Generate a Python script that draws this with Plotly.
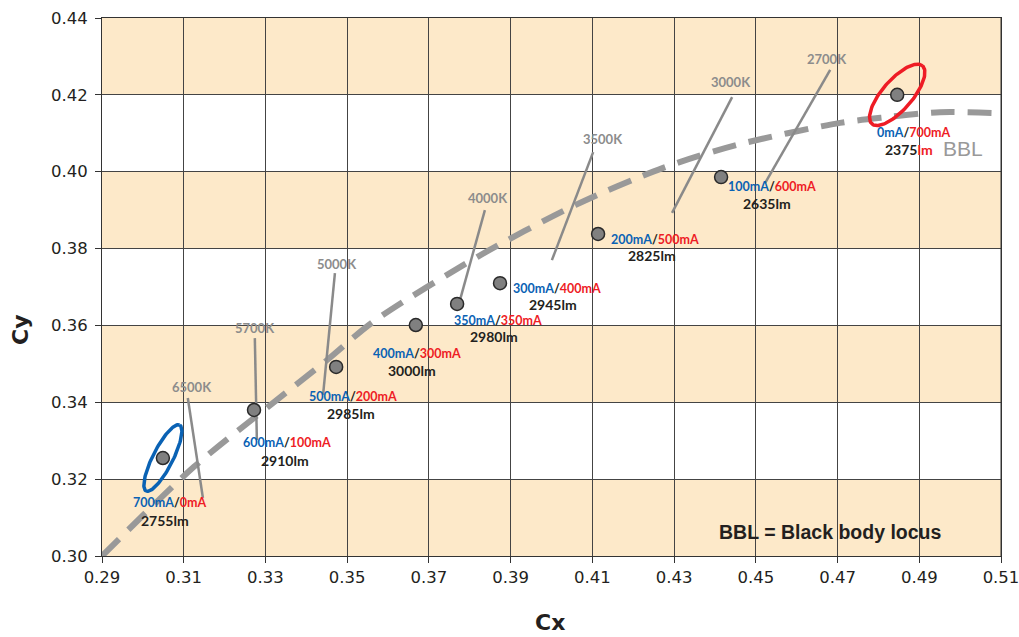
import numpy as np
import plotly.graph_objects as go

# Measured chromaticity of the dual-channel lamp at each current split
cx = [0.3049, 0.3272, 0.3473, 0.3668, 0.3769, 0.3874, 0.4114, 0.4415, 0.4846]
cy = [0.3255, 0.3380, 0.3492, 0.3601, 0.3656, 0.3710, 0.3838, 0.3986, 0.4200]
cool_ma = [700, 600, 500, 400, 350, 300, 200, 100, 0]
warm_ma = [0, 100, 200, 300, 350, 400, 500, 600, 700]
lumens = [2755, 2910, 2985, 3000, 2980, 2945, 2825, 2635, 2375]

# Black body locus
bbl_x = [0.2900, 0.3125, 0.3318, 0.3451, 0.3563, 0.3818, 0.4058, 0.4273,
         0.4454, 0.4706, 0.4821, 0.4951, 0.5100]
bbl_y = [0.3000, 0.3232, 0.3398, 0.3510, 0.3609, 0.3778, 0.3913, 0.4010,
         0.4070, 0.4127, 0.4142, 0.4155, 0.4152]

# Isotherm segments (top end, bottom end)
cct_names = ["6500K", "5700K", "5000K", "4000K", "3500K", "3000K", "2700K"]
iso_top_x = [0.3110, 0.3274, 0.3470, 0.3837, 0.4102, 0.4442, 0.4682]
iso_top_y = [0.3411, 0.3567, 0.3736, 0.3900, 0.4051, 0.4194, 0.4265]
iso_bot_x = [0.3147, 0.3279, 0.3441, 0.3776, 0.4001, 0.4295, 0.4523]
iso_bot_y = [0.3151, 0.3302, 0.3419, 0.3666, 0.3770, 0.3893, 0.3971]

# Axis ticks and shaded bands
x_ticks = [0.29, 0.31, 0.33, 0.35, 0.37, 0.39, 0.41, 0.43, 0.45, 0.47, 0.49, 0.51]
y_ticks = [0.30, 0.32, 0.34, 0.36, 0.38, 0.40, 0.42, 0.44]
band_starts = [0.30, 0.34, 0.38, 0.42]
band_height = 0.02

# ---------------------------------------------------------------- layout
W, H = 1019, 637
ML, MR, MT, MB = 102, 18, 18, 81
PW, PH = W - ML - MR, H - MT - MB
XR = (0.29, 0.51)
YR = (0.30, 0.44)
EPS = 1e-7  # keeps the end ticks inside the range despite float rounding
px_per_x = PW / (XR[1] - XR[0])
px_per_y = PH / (YR[1] - YR[0])

BLUE = "#0a62b4"
RED = "#ee1c25"
DARK = "#231f20"
GREY_TXT = "#8c8c8c"
GRID = "#444444"

fig = go.Figure()

for y0 in band_starts:
    fig.add_shape(type="rect", xref="paper", yref="y", x0=0, x1=1,
                  y0=y0, y1=y0 + band_height, fillcolor="#fde9c9",
                  line_width=0, layer="below")

# right-hand frame edge
fig.add_shape(type="line", xref="paper", yref="paper", x0=1, x1=1, y0=0, y1=1,
              line=dict(color="#333333", width=1), layer="above")

# BBL curve
fig.add_trace(go.Scatter(x=bbl_x, y=bbl_y, mode="lines",
                         line=dict(color="#999999", width=6, dash="24px,13px",
                                   shape="spline", smoothing=0.8),
                         hoverinfo="skip", showlegend=False))

# Isotherms
for i in range(len(cct_names)):
    fig.add_trace(go.Scatter(x=[iso_top_x[i], iso_bot_x[i]],
                             y=[iso_top_y[i], iso_bot_y[i]], mode="lines",
                             line=dict(color="#8a8a8a", width=2.5),
                             hoverinfo="skip", showlegend=False))

iso_label_shift = [(4, 11), (0, 10), (2, 9), (3, 12), (10, 13), (-1, 15), (-3, 11)]
for i, name in enumerate(cct_names):
    dx, dy = iso_label_shift[i]
    fig.add_annotation(x=iso_top_x[i], y=iso_top_y[i], text=f"<b>{name}</b>",
                       showarrow=False, xshift=dx, yshift=dy,
                       font=dict(family="Lato", size=13, color=GREY_TXT))


def ellipse(xc, yc, a_px, b_px, ang_deg, n=120):
    t = np.linspace(0, 2 * np.pi, n)
    th = np.radians(ang_deg)
    ux, uy = np.cos(th), np.sin(th)
    px = a_px * np.cos(t) * ux - b_px * np.sin(t) * uy
    py = a_px * np.cos(t) * uy + b_px * np.sin(t) * ux
    return xc + px / px_per_x, yc + py / px_per_y


ex, ey = ellipse(cx[0], cy[0], 37, 10, 63)
fig.add_trace(go.Scatter(x=ex, y=ey, mode="lines", line=dict(color=BLUE, width=3.5),
                         hoverinfo="skip", showlegend=False))
ex, ey = ellipse(cx[-1], cy[-1], 38.5, 15, 49)
fig.add_trace(go.Scatter(x=ex, y=ey, mode="lines", line=dict(color=RED, width=3.5),
                         hoverinfo="skip", showlegend=False))

# Measured points
fig.add_trace(go.Scatter(x=cx, y=cy, mode="markers",
                         marker=dict(size=13, color="#808080",
                                     line=dict(color="#2a2a2a", width=1.5)),
                         hoverinfo="skip", showlegend=False))

# Current-split label and luminous-flux label under each point (pixel offsets)
ma_shift = [(7, -44), (33, -33), (17, -30), (1, -28), (41, -17), (57, -5),
            (57, -6), (51, -9), (16, -38)]
lm_shift = [(2, -62), (31, -51), (15, -47), (-4, -45), (37, -33), (53, -21),
            (54, -22), (46, -26), (12, -55)]
for i in range(len(cx)):
    unit_col = RED if warm_ma[i] == 700 else DARK
    ma_text = (f"<b><span style='color:{BLUE}'>{cool_ma[i]}mA</span>"
               f"<span style='color:{DARK}'>/</span>"
               f"<span style='color:{RED}'>{warm_ma[i]}mA</span></b>")
    fig.add_annotation(x=cx[i], y=cy[i], text=ma_text, showarrow=False,
                       xshift=ma_shift[i][0], yshift=ma_shift[i][1],
                       xanchor="center", yanchor="middle",
                       font=dict(family="Lato", size=12.5, color=DARK))
    lm_text = f"<b>{lumens[i]}<span style='color:{unit_col}'>lm</span></b>"
    fig.add_annotation(x=cx[i], y=cy[i], text=lm_text, showarrow=False,
                       xshift=lm_shift[i][0], yshift=lm_shift[i][1],
                       xanchor="center", yanchor="middle",
                       font=dict(family="Lato", size=14, color=DARK))

fig.add_annotation(x=cx[-1], y=cy[-1], text="BBL", showarrow=False,
                   xshift=66, yshift=-54,
                   font=dict(family="Liberation Sans", size=21, color="#999999"))

fig.add_annotation(xref="paper", yref="paper", x=(830 - ML) / PW,
                   y=(H - MB - 532) / PH, xanchor="center", yanchor="middle",
                   text="<b>BBL = Black body locus</b>", showarrow=False,
                   font=dict(family="Liberation Sans", size=19.5, color=DARK))

# Axis titles
fig.add_annotation(xref="paper", yref="paper", x=(550 - ML) / PW,
                   y=-(622 - MT - PH) / PH, xanchor="center", yanchor="middle",
                   text="<b>Cx</b>", showarrow=False,
                   font=dict(family="DejaVu Sans", size=22, color=DARK))
fig.add_annotation(xref="paper", yref="paper", x=-(ML - 20) / PW,
                   y=(H - MB - 330) / PH, xanchor="center", yanchor="middle",
                   text="<b>Cy</b>", showarrow=False, textangle=-90,
                   font=dict(family="DejaVu Sans", size=22, color=DARK))

axis_common = dict(showgrid=True, gridcolor=GRID, gridwidth=1,
                   showline=True, linecolor="#333333", linewidth=1, mirror=True,
                   ticks="outside", ticklen=6, tickcolor="#333333",
                   tickfont=dict(family="DejaVu Sans", size=16.5, color=DARK),
                   zeroline=False, tickformat=".2f", automargin=False,
                   ticklabeloverflow="allow")

fig.update_xaxes(range=[XR[0] - EPS, XR[1] + EPS], tickvals=x_ticks, **axis_common)
fig.update_yaxes(range=[YR[0] - EPS, YR[1] + EPS], tickvals=y_ticks,
                 ticklabelstandoff=4, **axis_common)

fig.update_layout(width=W, height=H, margin=dict(l=ML, r=MR, t=MT, b=MB),
                  paper_bgcolor="white", plot_bgcolor="white",
                  showlegend=False)

fig.write_html("out.html")
